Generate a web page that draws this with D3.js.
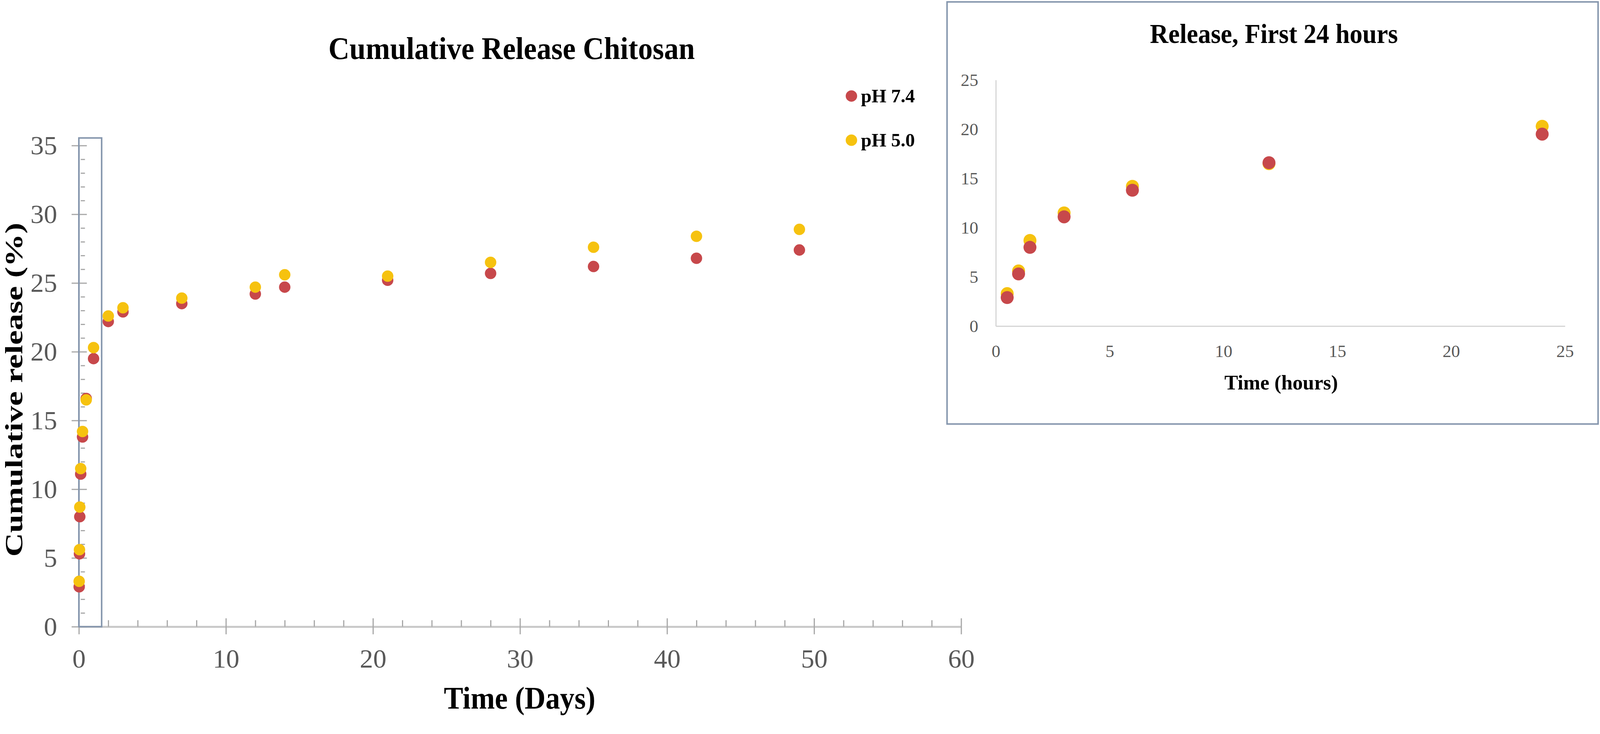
<!DOCTYPE html>
<html>
<head>
<meta charset="utf-8">
<script src="https://cdn.jsdelivr.net/npm/d3@7"></script>
<style>
  html, body { margin: 0; padding: 0; width: 100%; height: 100%; background: #fff; overflow: hidden; }
  svg { display: block; width: 100vw; height: 100vh; }
  text { font-family: "Liberation Serif", "Times New Roman", serif; }
</style>
</head>
<body>
<script>
// sampling times in the first day (hours) and later (days)
const hours = [0.5, 1, 1.5, 3, 6, 12, 24];
const hoursPH74 = [2.9, 5.3, 8.0, 11.1, 13.8, 16.6, 19.5];
const hoursPH50 = [3.3, 5.6, 8.7, 11.5, 14.2, 16.5, 20.3];

const days = [2, 3, 7, 12, 14, 21, 28, 35, 42, 49];
const daysPH74 = [22.2, 22.9, 23.5, 24.2, 24.7, 25.2, 25.7, 26.2, 26.8, 27.4];
const daysPH50 = [22.6, 23.2, 23.9, 24.7, 25.6, 25.5, 26.5, 27.6, 28.4, 28.9];

const seriesNames = ["pH 7.4", "pH 5.0"];
const seriesColors = ["#c7484b", "#f6c20f"];

const mainXTicks = [0, 10, 20, 30, 40, 50, 60];
const mainYTicks = [0, 5, 10, 15, 20, 25, 30, 35];
const insetTicks = [0, 5, 10, 15, 20, 25];

// highlighted first-day region on the main chart (days, %)
const boxDays = [0, 1.55];
const boxPct = [0, 35.55];

const W = 4200, H = 1879;
const svg = d3.select("body").append("svg")
  .attr("viewBox", `0 0 ${W} ${H}`)
  .attr("preserveAspectRatio", "xMinYMin meet")
  .style("background", "#fff");

// ---------- main chart ----------
const x = d3.scaleLinear().domain([0, 60]).range([207, 2523]);
const y = d3.scaleLinear().domain([0, 35]).range([1645, 382]);

const xMinor = d3.range(0, 61, 2).filter(d => d % 10 !== 0);
const yMinor = d3.range(0, 36, 1).filter(d => d % 5 !== 0);

// x axis: line, downward major ticks, labels
const gx = svg.append("g").attr("transform", `translate(0,${y(0)})`)
  .call(d3.axisBottom(x).tickValues(mainXTicks).tickSize(20).tickSizeOuter(0));
gx.select(".domain").attr("stroke", "#c8c8c8").attr("stroke-width", 5);
gx.selectAll(".tick line").attr("stroke", "#a6a6a6").attr("stroke-width", 3);
gx.selectAll(".tick text")
  .attr("y", 83).attr("dy", "0.35em")
  .attr("font-size", 70).attr("fill", "#595959")
  .style("font-family", "'Liberation Serif', serif");

// upward major + minor ticks
const gxUp = svg.append("g").attr("transform", `translate(0,${y(0)})`)
  .call(d3.axisTop(x).tickValues(mainXTicks).tickSize(22).tickFormat(""));
const gxMin = svg.append("g").attr("transform", `translate(0,${y(0)})`)
  .call(d3.axisTop(x).tickValues(xMinor).tickSize(17).tickFormat(""));
[gxUp, gxMin].forEach(g => {
  g.select(".domain").remove();
  g.selectAll(".tick line").attr("stroke", "#a6a6a6").attr("stroke-width", 3);
});

// y axis
const gy = svg.append("g").attr("transform", `translate(${x(0)},0)`)
  .call(d3.axisLeft(y).tickValues(mainYTicks).tickSize(19).tickPadding(38).tickSizeOuter(0));
gy.select(".domain").attr("stroke", "#a9b4c4").attr("stroke-width", 4);
gy.selectAll(".tick line").attr("stroke", "#a6a6a6").attr("stroke-width", 3);
gy.selectAll(".tick text")
  .attr("font-size", 70).attr("fill", "#595959")
  .style("font-family", "'Liberation Serif', serif");

const gyRight = svg.append("g").attr("transform", `translate(${x(0)},0)`)
  .call(d3.axisRight(y).tickValues(mainYTicks).tickSize(21).tickFormat(""));
const gyMin = svg.append("g").attr("transform", `translate(${x(0) + 5},0)`)
  .call(d3.axisRight(y).tickValues(yMinor).tickSize(11).tickFormat(""));
[gyRight, gyMin].forEach(g => {
  g.select(".domain").remove();
  g.selectAll(".tick line").attr("stroke", "#a6a6a6").attr("stroke-width", 3);
});

// highlight box
svg.append("rect")
  .attr("x", x(boxDays[0])).attr("y", y(boxPct[1]))
  .attr("width", x(boxDays[1]) - x(boxDays[0]))
  .attr("height", y(boxPct[0]) - y(boxPct[1]))
  .attr("fill", "none").attr("stroke", "#8596ad").attr("stroke-width", 4);

// markers: pH 7.4 under pH 5.0
const mainTimes = hours.map(h => h / 24).concat(days);
const mainSeries = [hoursPH74.concat(daysPH74), hoursPH50.concat(daysPH50)];
mainSeries.forEach((vals, i) => {
  svg.append("g").selectAll("circle")
    .data(vals)
    .join("circle")
    .attr("cx", (d, j) => x(mainTimes[j]))
    .attr("cy", d => y(d))
    .attr("r", 15)
    .attr("fill", seriesColors[i]);
});

// titles
svg.append("text")
  .attr("x", 1343).attr("y", 155)
  .attr("text-anchor", "middle")
  .attr("font-size", 83).attr("font-weight", "bold")
  .attr("textLength", 962).attr("lengthAdjust", "spacingAndGlyphs")
  .text("Cumulative Release Chitosan");

svg.append("text")
  .attr("x", 1364).attr("y", 1860)
  .attr("text-anchor", "middle")
  .attr("font-size", 83).attr("font-weight", "bold")
  .attr("textLength", 398).attr("lengthAdjust", "spacingAndGlyphs")
  .text("Time (Days)");

svg.append("text")
  .attr("transform", "translate(58,1023) rotate(-90)")
  .attr("text-anchor", "middle")
  .attr("font-size", 66).attr("font-weight", "bold")
  .attr("textLength", 877).attr("lengthAdjust", "spacingAndGlyphs")
  .text("Cumulative release (%)");

// legend
const legend = svg.append("g").selectAll("g")
  .data(seriesNames)
  .join("g")
  .attr("transform", (d, i) => `translate(2235,${252 + i * 116})`);
legend.append("circle").attr("r", 15).attr("fill", (d, i) => seriesColors[i]);
legend.append("text")
  .attr("x", 25).attr("y", 17)
  .attr("font-size", 50).attr("font-weight", "bold")
  .text(d => d);

// ---------- inset ----------
svg.append("rect")
  .attr("x", 2486).attr("y", 5)
  .attr("width", 4195 - 2486).attr("height", 1113 - 5)
  .attr("fill", "#fff").attr("stroke", "#8596ad").attr("stroke-width", 4);

const xi = d3.scaleLinear().domain([0, 25]).range([2614, 4108]);
const yi = d3.scaleLinear().domain([0, 25]).range([856, 210]);

const gxi = svg.append("g").attr("transform", `translate(0,${yi(0)})`)
  .call(d3.axisBottom(xi).tickValues(insetTicks).tickSize(0).tickSizeOuter(0));
gxi.selectAll(".tick text").attr("y", 65).attr("dy", "0.35em");
const gyi = svg.append("g").attr("transform", `translate(${xi(0)},0)`)
  .call(d3.axisLeft(yi).tickValues(insetTicks).tickSize(0).tickPadding(46).tickSizeOuter(0));
[gxi, gyi].forEach(g => {
  g.select(".domain").attr("stroke", "#d4d4d4").attr("stroke-width", 3);
  g.selectAll(".tick text")
    .attr("font-size", 46).attr("fill", "#595959")
    .style("font-family", "'Liberation Serif', serif");
});

// markers: pH 5.0 under pH 7.4
[hoursPH50, hoursPH74].forEach((vals, k) => {
  svg.append("g").selectAll("circle")
    .data(vals)
    .join("circle")
    .attr("cx", (d, j) => xi(hours[j]))
    .attr("cy", d => yi(d))
    .attr("r", 17)
    .attr("fill", seriesColors[1 - k]);
});

svg.append("text")
  .attr("x", 3344).attr("y", 113)
  .attr("text-anchor", "middle")
  .attr("font-size", 72).attr("font-weight", "bold")
  .attr("textLength", 651).attr("lengthAdjust", "spacingAndGlyphs")
  .text("Release, First 24 hours");

svg.append("text")
  .attr("x", 3363).attr("y", 1022)
  .attr("text-anchor", "middle")
  .attr("font-size", 54).attr("font-weight", "bold")
  .attr("textLength", 298).attr("lengthAdjust", "spacingAndGlyphs")
  .text("Time (hours)");
</script>
</body>
</html>
